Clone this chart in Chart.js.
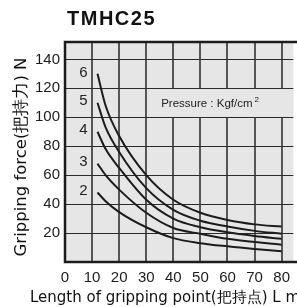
<!DOCTYPE html>
<html>
<head>
<meta charset="utf-8">
<script src="https://cdn.jsdelivr.net/npm/chart.js@4.4.0/dist/chart.umd.min.js"></script>
<style>
html, body { margin: 0; padding: 0; background: #fff; }
#wrap { width: 297px; height: 307px; }
</style>
</head>
<body>
<div id="wrap"><canvas id="myChart" width="297" height="307"></canvas></div>
<script>
// gripping force vs length of gripping point, one curve per pressure (Kgf/cm2)
const pressures = ['2', '3', '4', '5', '6'];
const lengths = [12, 15, 20, 30, 40, 50, 60, 70, 80];
const force_p2 = [48, 42, 34.5, 24, 16.5, 13, 10.8, 9, 7.5];
const force_p3 = [68, 60, 50, 34, 23.5, 19.5, 16, 13.8, 12];
const force_p4 = [90, 78, 65, 43, 30, 24, 20.5, 18, 16];
const force_p5 = [110, 93, 76, 51, 36, 28.5, 24.5, 21.5, 19.5];
const force_p6 = [130, 108, 87, 60, 43, 34, 29, 26, 24.5];
const xTicks = [0, 10, 20, 30, 40, 50, 60, 70, 80];
const yTicks = [20, 40, 60, 80, 100, 120, 140];

const allForces = [force_p2, force_p3, force_p4, force_p5, force_p6];
const ink = '#1c1c1c';
const gridInk = '#2b2b2b';
const plotBg = '#e6e6e6';
const sans = '"Liberation Sans", Arial, sans-serif';

const datasets = allForces.map(function (f, i) {
    return {
        label: pressures[i],
        data: lengths.map(function (L, j) { return { x: L, y: f[j] }; }),
        borderColor: ink,
        borderWidth: 2,
        pointRadius: 0,
        fill: false,
        cubicInterpolationMode: 'monotone'
    };
});

// grey plot background
const bgPlugin = {
    id: 'bgPlugin',
    beforeDraw(chart) {
        const a = chart.chartArea;
        const ctx = chart.ctx;
        ctx.save();
        ctx.fillStyle = plotBg;
        ctx.fillRect(a.left, a.top, a.right - a.left, a.bottom - a.top);
        ctx.restore();
    }
};

// grid lines from the tick arrays, then the "Pressure" note box over them
const gridPlugin = {
    id: 'gridPlugin',
    beforeDatasetsDraw(chart) {
        const ctx = chart.ctx;
        const a = chart.chartArea;
        const xs = chart.scales.x, ys = chart.scales.y;
        ctx.save();
        ctx.strokeStyle = gridInk;
        ctx.lineWidth = 1;
        ctx.beginPath();
        yTicks.forEach(function (v) {
            const py = Math.round(ys.getPixelForValue(v)) + 0.5;
            ctx.moveTo(a.left, py);
            ctx.lineTo(a.right, py);
        });
        ctx.stroke();
        // vertical lines a bit wider, they read heavier in the reference
        ctx.strokeStyle = '#333';
        ctx.lineWidth = 1.6;
        ctx.beginPath();
        xTicks.forEach(function (v) {
            const px = Math.round(xs.getPixelForValue(v));
            ctx.moveTo(px, a.top);
            ctx.lineTo(px, a.bottom);
        });
        ctx.stroke();

        const top = Math.round(ys.getPixelForValue(120)) + 1;
        const bot = Math.round(ys.getPixelForValue(100));
        const left = xs.getPixelForValue(31);
        ctx.fillStyle = plotBg;
        ctx.fillRect(left, top, a.right - left, bot - top);
        ctx.fillStyle = '#222';
        ctx.font = '11.5px ' + sans;
        ctx.textBaseline = 'alphabetic';
        const tx = xs.getPixelForValue(35.5);
        const ty = ys.getPixelForValue(107);
        const main = 'Pressure : Kgf/cm';
        ctx.fillText(main, tx, ty);
        const w = ctx.measureText(main).width;
        ctx.font = '8px ' + sans;
        ctx.fillText('2', tx + w + 2, ty - 5);
        ctx.restore();
    }
};

// frame, curve numbers and all titles
const framePlugin = {
    id: 'framePlugin',
    afterDatasetsDraw(chart) {
        const ctx = chart.ctx;
        const a = chart.chartArea;
        const xs = chart.scales.x, ys = chart.scales.y;
        ctx.save();
        ctx.strokeStyle = ink;
        ctx.lineWidth = 2.5;
        ctx.beginPath();
        ctx.moveTo(chart.width + 5, a.top);
        ctx.lineTo(a.left, a.top);
        ctx.lineTo(a.left, a.bottom);
        ctx.lineTo(chart.width + 5, a.bottom);
        ctx.stroke();

        // pressure numbers next to each curve start
        ctx.fillStyle = '#222';
        ctx.font = '15px ' + sans;
        ctx.textAlign = 'center';
        ctx.textBaseline = 'middle';
        allForces.forEach(function (f, i) {
            ctx.fillText(pressures[i], xs.getPixelForValue(6.8), ys.getPixelForValue(f[0] + 1));
        });

        // chart title
        ctx.fillStyle = '#111';
        ctx.textAlign = 'left';
        ctx.textBaseline = 'alphabetic';
        ctx.font = 'bold 20px ' + sans;
        ctx.letterSpacing = '1.5px';
        ctx.fillText('TMHC25', 67, 25);
        ctx.letterSpacing = '0px';

        // axis titles
        ctx.font = '15px "DejaVu Sans", sans-serif';
        ctx.fillText('Length of gripping point(把持点) L mm', 30, 302);
        ctx.save();
        ctx.translate(26, 157);
        ctx.rotate(-Math.PI / 2);
        ctx.textAlign = 'center';
        ctx.font = '16.5px "DejaVu Sans", sans-serif';
        ctx.fillText('Gripping force(把持力) N', 0, 0);
        ctx.restore();
        ctx.restore();
    }
};

const ctx = document.getElementById('myChart');
const myChart = new Chart(ctx.getContext('2d'), {
    type: 'line',
    data: { datasets: datasets },
    options: {
        responsive: false,
        animation: false,
        devicePixelRatio: 1,
        layout: { padding: { top: 42, left: 0, right: 0, bottom: 0 } },
        plugins: {
            legend: { display: false },
            tooltip: { enabled: false }
        },
        scales: {
            x: {
                type: 'linear',
                min: 0,
                max: 84.3,
                afterFit: function (scale) { scale.height = 45; },
                afterBuildTicks: function (scale) {
                    scale.ticks = xTicks.map(function (v) { return { value: v }; });
                },
                border: { display: false },
                grid: { display: false, drawTicks: false },
                ticks: {
                    color: ink,
                    padding: 7,
                    maxRotation: 0,
                    font: { size: 15, family: sans }
                }
            },
            y: {
                min: 0,
                max: 152,
                afterFit: function (scale) { scale.width = 65; },
                afterBuildTicks: function (scale) {
                    scale.ticks = yTicks.map(function (v) { return { value: v }; });
                },
                border: { display: false },
                grid: { display: false, drawTicks: false },
                ticks: {
                    color: ink,
                    padding: 5,
                    font: { size: 15, family: sans }
                }
            }
        }
    },
    plugins: [bgPlugin, gridPlugin, framePlugin]
});
</script>
</body>
</html>
